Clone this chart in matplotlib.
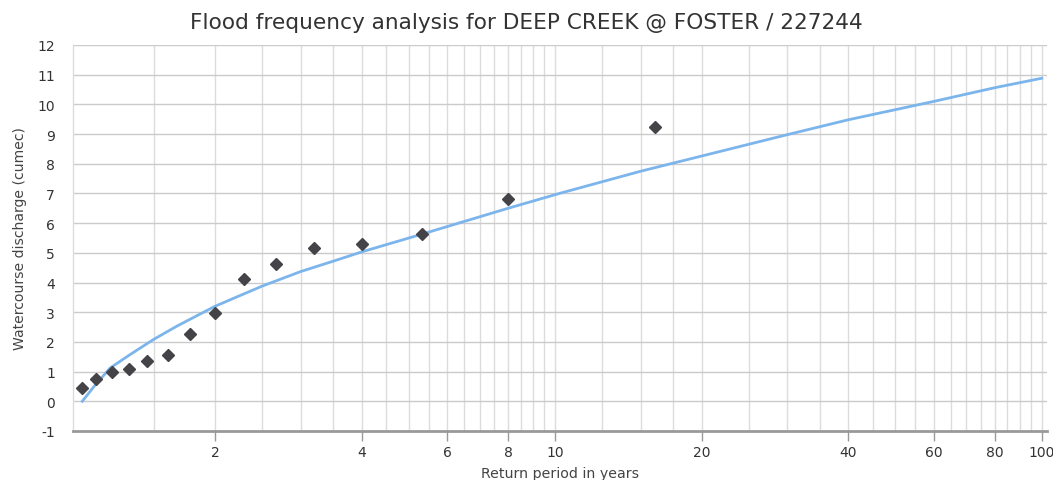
import matplotlib

matplotlib.use("Agg")
import matplotlib.pyplot as plt
from matplotlib.ticker import FixedLocator, NullFormatter

plt.rcParams["font.family"] = ["DejaVu Sans"]

# Observed annual maxima, plotted at their return periods (years)
obs_period = [16.0, 8.0, 5.33, 4.0, 3.2, 2.67, 2.29, 2.0, 1.78, 1.6, 1.45, 1.33, 1.23, 1.14, 1.067]
obs_flow = [9.24, 6.8, 5.62, 5.31, 5.15, 4.61, 4.11, 2.99, 2.27, 1.56, 1.36, 1.1, 0.97, 0.74, 0.46]

# Fitted frequency curve
fit_period = [1.067, 1.128, 1.217, 1.337, 1.494, 1.669, 1.834, 2.0, 2.25, 2.5, 3.0, 3.5, 4.0,
              5.3, 8.0, 10.2, 15.0, 20.0, 30.0, 40.0, 60.0, 80.0, 100.0]
fit_flow = [0.0, 0.5, 1.12, 1.57, 2.08, 2.53, 2.88, 3.2, 3.56, 3.88, 4.37, 4.72, 5.03,
            5.62, 6.5, 7.0, 7.75, 8.26, 8.98, 9.48, 10.1, 10.56, 10.88]

x_major = [2, 4, 6, 8, 10, 20, 40, 60, 80, 100]
x_minor = [1.5, 2.5, 3, 3.5, 4.5, 5, 5.5, 6.5, 7, 7.5, 8.5, 9, 9.5, 12.5, 15, 17.5,
           25, 30, 35, 45, 50, 55, 65, 70, 75, 85, 90, 95]
y_ticks = list(range(-1, 13))

fig = plt.figure(figsize=(10.53, 4.81), dpi=100)
ax = fig.add_axes([0.0693, 0.1019, 0.925, 0.8025])

ax.set_xscale("log")
ax.set_xlim(1.021, 102.5)
ax.set_ylim(-1, 12)

# grid: vertical lines at every major and minor position, horizontal at each unit
for xv in x_major + x_minor:
    ax.axvline(xv, color="#dcdcdc", linewidth=1, zorder=0)
for yv in y_ticks[1:]:
    ax.axhline(yv, color="#cbcbcb", linewidth=1, zorder=0)

ax.plot(fit_period, fit_flow, color="#7cb5ec", linewidth=2, zorder=3)
ax.plot(obs_period, obs_flow, linestyle="none", marker="D", markersize=6.5,
        color="#434348", zorder=4)

ax.xaxis.set_major_locator(FixedLocator(x_major))
ax.xaxis.set_minor_locator(FixedLocator([]))
ax.xaxis.set_minor_formatter(NullFormatter())
ax.set_xticklabels([str(v) for v in x_major])
ax.set_yticks(y_ticks)
ax.set_yticklabels([str(v) for v in y_ticks])

ax.tick_params(axis="x", length=7, width=1, color="#999999", pad=3,
               labelsize=10, labelcolor="#333333")
ax.tick_params(axis="y", length=0, pad=13, labelsize=10, labelcolor="#333333")

for side in ["top", "right"]:
    ax.spines[side].set_visible(False)
ax.spines["left"].set_color("#dcdcdc")
ax.spines["left"].set_linewidth(1)
ax.spines["bottom"].set_color("#999999")
ax.spines["bottom"].set_linewidth(2)

ax.set_xlabel("Return period in years", fontsize=10.2, color="#444444", labelpad=5)
ax.set_ylabel("Watercourse discharge (cumec)", fontsize=10.1, color="#444444", labelpad=7)
fig.text(0.5, 0.953, "Flood frequency analysis for DEEP CREEK @ FOSTER / 227244",
         ha="center", va="center", fontsize=15.6, color="#333333")

fig.savefig("out.png", dpi=100)
